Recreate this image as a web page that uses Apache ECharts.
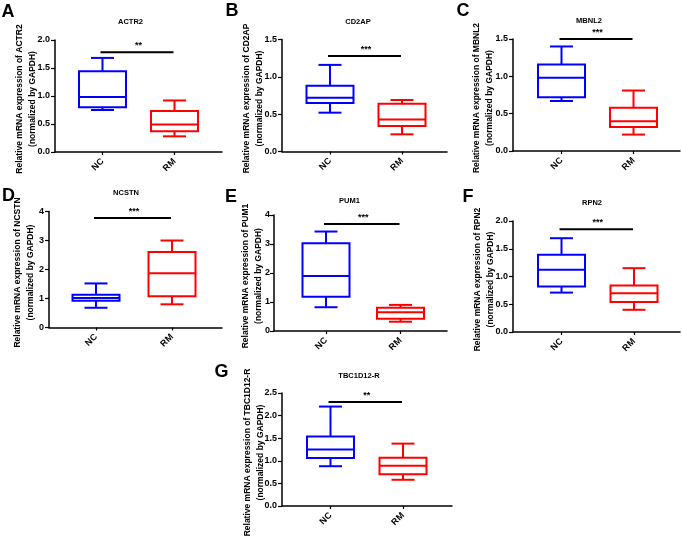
<!DOCTYPE html>
<html><head><meta charset="utf-8">
<script src="https://cdn.jsdelivr.net/npm/echarts@6/dist/echarts.min.js"></script>
<style>html,body{margin:0;padding:0;background:#fff}#c{width:682px;height:541px}</style>
</head><body><div id="c"></div>
<script>
// ---- data ----
const panelLetters = ['A','B','C','D','E','F','G'];
const genes = ['ACTR2','CD2AP','MBNL2','NCSTN','PUM1','RPN2','TBC1D12-R'];
const groups = ['NC','RM'];
// [min, Q1, median, Q3, max]
const ncStats = [
  [0.75,0.80,0.98,1.44,1.68],
  [0.52,0.65,0.72,0.88,1.16],
  [0.67,0.72,0.98,1.16,1.40],
  [0.68,0.92,1.02,1.13,1.52],
  [0.82,1.18,1.90,3.03,3.43],
  [0.71,0.82,1.12,1.39,1.69],
  [0.88,1.06,1.25,1.54,2.20]
];
const rmStats = [
  [0.28,0.37,0.49,0.73,0.92],
  [0.23,0.34,0.43,0.64,0.69],
  [0.22,0.32,0.40,0.58,0.81],
  [0.80,1.08,1.87,2.60,3.00],
  [0.32,0.42,0.65,0.80,0.90],
  [0.40,0.54,0.70,0.84,1.15],
  [0.58,0.70,0.89,1.07,1.38]
];
const sigMarks = ['**','***','***','***','***','***','**'];
const sigLevels = [1.78,1.28,1.50,3.78,3.69,1.85,2.30];
const yMaxes = [2,1.5,1.5,4,4,2,2.5];
const yIntervals = [0.5,0.5,0.5,1,1,0.5,0.5];
const yDecimals = [1,1,1,0,0,1,1];

// ---- layout (pixels) ----
const layouts = [
  {axisX:55,  top:40,    bottom:152,   xEnd:222, c0:102.5, sp:72,   gap:16,   lm:5, tx:130.5, ty:21.5, lx:8,     ly:12},
  {axisX:282, top:39.5,  bottom:151.5, xEnd:447, c0:330,   sp:72,   gap:16,   lm:5, tx:358,   ty:21.5, lx:232,   ly:11},
  {axisX:513, top:39,    bottom:151,   xEnd:680, c0:561.5, sp:72,   gap:16.5, lm:5, tx:589,   ty:20.5, lx:463,   ly:11},
  {axisX:49,  top:211.5, bottom:327.5, xEnd:222, c0:96,    sp:76,   gap:11.5, lm:5, tx:126,   ty:193,  lx:8.5,   ly:196},
  {axisX:274, top:215,   bottom:331,   xEnd:447, c0:326,   sp:74.5, gap:8.5,  lm:4, tx:349.5, ty:200.5,lx:231,   ly:197.5},
  {axisX:513, top:221,   bottom:332,   xEnd:680, c0:561.5, sp:72.5, gap:16,   lm:5, tx:592,   ty:203,  lx:468,   ly:197.5},
  {axisX:282, top:393,   bottom:506,   xEnd:452, c0:330.5, sp:72.5, gap:15,   lm:5, tx:359,   ty:375.5,lx:221.5, ly:372}
];
const FONT = '"Liberation Sans", Arial, Helvetica, sans-serif';
const NC_COLOR = '#0000ff', RM_COLOR = '#ff0000';

function boxRender(color){
  return function(params, api){
    const x = api.value(0);
    const p = k => api.coord([x, api.value(k)]);
    const pMin=p(1), pQ1=p(2), pMed=p(3), pQ3=p(4), pMax=p(5);
    const cx = pMin[0], hw = 23.5, hc = 11.5;
    const st = {stroke:color, lineWidth:2, fill:'none'};
    return {type:'group', children:[
      {type:'rect', shape:{x:cx-hw, y:pQ3[1], width:2*hw, height:pQ1[1]-pQ3[1]}, style:{stroke:color, lineWidth:2, fill:'none'}},
      {type:'line', shape:{x1:cx-hw, y1:pMed[1], x2:cx+hw, y2:pMed[1]}, style:st},
      {type:'line', shape:{x1:cx, y1:pQ3[1], x2:cx, y2:pMax[1]}, style:st},
      {type:'line', shape:{x1:cx, y1:pQ1[1], x2:cx, y2:pMin[1]}, style:st},
      {type:'line', shape:{x1:cx-hc, y1:pMax[1], x2:cx+hc, y2:pMax[1]}, style:st},
      {type:'line', shape:{x1:cx-hc, y1:pMin[1], x2:cx+hc, y2:pMin[1]}, style:st}
    ]};
  };
}

const grid=[], xAxis=[], yAxis=[], series=[], title=[];
layouts.forEach((L,i)=>{
  const h = L.bottom - L.top;
  grid.push({left:L.axisX, top:L.top, width:L.xEnd-L.axisX, height:h});
  grid.push({left:L.c0-L.sp/2, top:L.top, width:2*L.sp, height:h});
  xAxis.push({gridIndex:2*i, type:'value', min:0, max:1,
    axisLine:{show:true, lineStyle:{color:'#000', width:1.5}},
    axisTick:{show:false}, axisLabel:{show:false}, splitLine:{show:false}});
  xAxis.push({gridIndex:2*i+1, type:'category', data:groups, boundaryGap:true,
    axisLine:{show:false},
    axisTick:{show:true, alignWithLabel:true, length:3, lineStyle:{color:'#000', width:1.2}},
    axisLabel:{rotate:45, margin:8, fontSize:9, fontWeight:'bold', color:'#000', fontFamily:FONT},
    splitLine:{show:false}});
  yAxis.push({gridIndex:2*i, type:'value', min:0, max:yMaxes[i], interval:yIntervals[i],
    name:'Relative mRNA expression of ' + genes[i] + '\n(normalized by GAPDH)',
    nameLocation:'middle', nameGap:L.gap, nameMoveOverlap:false,
    nameTextStyle:{fontSize:8.5, fontWeight:'bold', lineHeight:13, color:'#000', fontFamily:FONT, padding:[0,6,0,0]},
    axisLine:{show:true, lineStyle:{color:'#000', width:1.5}},
    axisTick:{show:true, length:4, lineStyle:{color:'#000', width:1.2}},
    axisLabel:{fontSize:9, fontWeight:'bold', margin:L.lm, color:'#000', fontFamily:FONT,
      formatter:v=>v.toFixed(yDecimals[i])},
    splitLine:{show:false}});
  yAxis.push({gridIndex:2*i+1, type:'value', min:0, max:yMaxes[i], show:false});

  series.push({type:'custom', name:genes[i]+' NC', xAxisIndex:2*i+1, yAxisIndex:2*i+1,
    data:[[0].concat(ncStats[i])], renderItem:boxRender(NC_COLOR), clip:false, silent:true});
  series.push({type:'custom', name:genes[i]+' RM', xAxisIndex:2*i+1, yAxisIndex:2*i+1,
    data:[[1].concat(rmStats[i])], renderItem:boxRender(RM_COLOR), clip:false, silent:true});
  series.push({type:'custom', name:genes[i]+' sig', xAxisIndex:2*i+1, yAxisIndex:2*i+1,
    data:[[0, 1, sigLevels[i]]], clip:false, silent:true,
    renderItem:function(params, api){
      const a = api.coord([api.value(0), api.value(2)]);
      const b = api.coord([api.value(1), api.value(2)]);
      return {type:'group', children:[
        {type:'line', shape:{x1:a[0]-2, y1:a[1], x2:b[0]-1, y2:b[1]}, style:{stroke:'#000', lineWidth:2}},
        {type:'text', style:{text:sigMarks[i], x:(a[0]+b[0])/2, y:a[1]-2, align:'center', verticalAlign:'bottom',
          font:'bold 9px ' + FONT, fill:'#000'}}
      ]};
    }});

  title.push({text:genes[i], left:L.tx, top:L.ty, textAlign:'center', textVerticalAlign:'middle', padding:0,
    textStyle:{fontSize:7.5, fontWeight:'bold', color:'#000', fontFamily:FONT}});
  title.push({text:panelLetters[i], left:L.lx, top:L.ly, textAlign:'center', textVerticalAlign:'middle', padding:0,
    textStyle:{fontSize:18, fontWeight:'bold', color:'#000', fontFamily:FONT}});
});

const chart = echarts.init(document.getElementById('c'), null, {renderer:'canvas'});
chart.setOption({animation:false, backgroundColor:'#fff', title, grid, xAxis, yAxis, series});
</script>
</body></html>
